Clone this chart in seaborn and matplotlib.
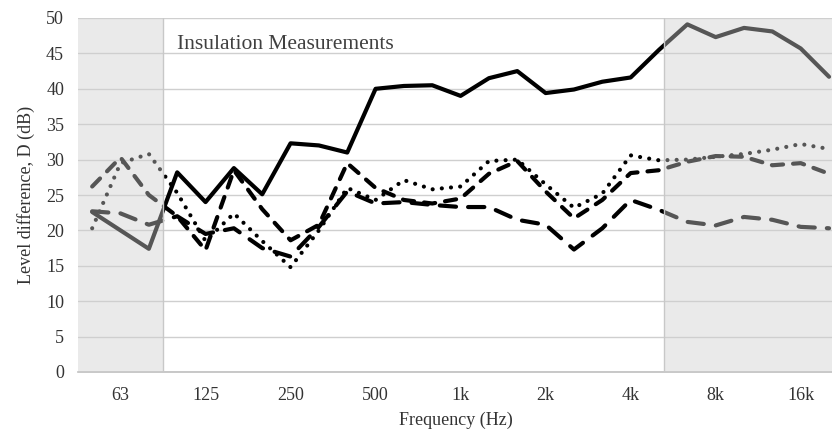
import matplotlib
matplotlib.use("Agg")
import matplotlib.pyplot as plt
import seaborn as sns
import numpy as np
import pandas as pd

# Third-octave band centre frequencies (categories)
bands = ["50", "63", "80", "100", "125", "160", "200", "250", "315", "400", "500",
         "630", "800", "1k", "1.25k", "1.6k", "2k", "2.5k", "3.15k", "4k", "5k",
         "6.3k", "8k", "10k", "12.5k", "16k", "20k"]
tick_labels = ["63", "125", "250", "500", "1k", "2k", "4k", "8k", "16k"]

solid = [22.6, 20.0, 17.4, 28.2, 24.0, 28.8, 25.1, 32.3, 32.0, 31.0, 40.0, 40.4, 40.5,
         39.0, 41.5, 42.5, 39.4, 39.9, 41.0, 41.6, 45.5, 49.1, 47.3, 48.6, 48.1, 45.7, 41.7]
dashed = [26.2, 30.3, 25.0, 22.0, 17.2, 28.5, 23.0, 18.6, 20.8, 29.5, 26.0, 24.3, 23.8,
          24.5, 28.0, 29.8, 25.5, 21.7, 24.3, 28.1, 28.5, 29.7, 30.5, 30.4, 29.2, 29.5, 28.0]
dotted = [20.3, 29.5, 30.8, 25.3, 18.5, 22.4, 18.5, 14.8, 20.0, 26.0, 24.3, 27.1, 25.8,
          26.2, 29.8, 30.0, 26.5, 23.2, 25.2, 30.6, 29.9, 30.0, 30.4, 30.8, 31.4, 32.2, 31.5]
longdash = [22.7, 22.4, 20.8, 22.0, 19.5, 20.3, 17.5, 16.3, 20.5, 25.5, 23.8, 24.0, 23.6,
            23.3, 23.3, 21.5, 20.8, 17.3, 20.3, 24.3, 22.9, 21.2, 20.7, 21.9, 21.5, 20.5, 20.3]

sns.set_theme(style="white")
plt.rcParams["font.family"] = ["Liberation Serif", "DejaVu Serif"]

W, H = 832, 433
fig = plt.figure(figsize=(W / 100, H / 100), dpi=100)
ax = fig.add_axes([78 / W, (H - 372) / H, (833 - 78) / W, (372 - 18) / H])

idx = np.arange(len(bands))
series = [
    (solid, None),
    (dashed, (2.7, 2.4)),
    (dotted, (0.01, 2.2)),
    (longdash, (3.9, 2.9)),
]
for vals, dash in series:
    df = pd.DataFrame({"i": idx, "v": vals})
    sns.lineplot(data=df, x="i", y="v", ax=ax, color="black", linewidth=3.0,
                 zorder=2, legend=False)
    ln = ax.lines[-1]
    ln.set_solid_joinstyle("round")
    if dash is not None:
        ln.set_dashes(dash)
        ln.set_dash_capstyle("round")
        ln.set_dash_joinstyle("round")

# shaded (out-of-range) regions overlaid on top
ax.axvspan(-0.5, 2.5, ymin=0, ymax=1, facecolor="#cfcfcf", alpha=0.42,
           edgecolor="none", zorder=3)
ax.axvspan(20.17, 27, ymin=0, ymax=1, facecolor="#cfcfcf", alpha=0.42,
           edgecolor="none", zorder=3)
ax.axvline(2.5, color="#c8c8c8", linewidth=1.0, zorder=3)
ax.axvline(20.17, color="#c8c8c8", linewidth=1.0, zorder=3)

ax.set_xlim(-0.5, 26.14)
ax.set_ylim(0, 50)
ax.set_yticks(np.arange(0, 51, 5))
ax.set_xticks(idx[1::3])
ax.set_xticklabels(tick_labels)
ax.yaxis.grid(True, color="#cfcfcf", linewidth=1.0, zorder=0)
ax.xaxis.grid(False)
for s in ["top", "right", "left"]:
    ax.spines[s].set_visible(False)
ax.spines["bottom"].set_color("#bfbfbf")
ax.spines["bottom"].set_linewidth(1.2)
ax.tick_params(axis="both", length=0, labelsize=13, colors="#333333")
ax.tick_params(axis="x", pad=11)
ax.tick_params(axis="y", pad=10)

ax.set_xlabel("Frequency (Hz)", fontsize=13, color="#333333", labelpad=5)
ax.set_ylabel("Level difference, D (dB)", fontsize=13, color="#333333", labelpad=8)
ax.text(3.0, 46.2, "Insulation Measurements", fontsize=15.5, color="#404040",
        ha="left", va="center", zorder=4)

fig.savefig("out.png", dpi=100)
